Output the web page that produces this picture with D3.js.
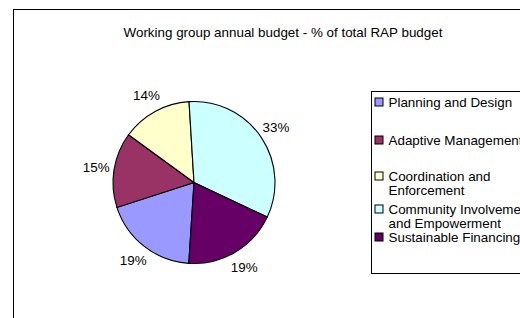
<!DOCTYPE html>
<html>
<head>
<meta charset="utf-8">
<script src="https://cdn.jsdelivr.net/npm/d3@7"></script>
<style>
  body { margin: 0; background: #fff; }
  text { font-family: "Liberation Sans", Arial, sans-serif; fill: #000; }
</style>
</head>
<body>
<svg id="chart" width="520" height="318"></svg>
<script>
// data
const categories = ["Planning and Design", "Adaptive Management", "Coordination and Enforcement",
                    "Community Involvement and Empowerment", "Sustainable Financing"];
const legendLines = [["Planning and Design"], ["Adaptive Management"], ["Coordination and", "Enforcement"],
                     ["Community Involvement", "and Empowerment"], ["Sustainable Financing"]];
const shares = [19, 15, 14, 33, 19];
const colors = ["#9999ff", "#993366", "#ffffcc", "#ccffff", "#660066"];
const title = "Working group annual budget - % of total RAP budget";

const svg = d3.select("#chart");

// outer chart frame (runs off the right and bottom of the picture)
svg.append("rect")
    .attr("x", 13.5).attr("y", 9.5)
    .attr("width", 560).attr("height", 340)
    .style("fill", "#fff").style("stroke", "#000").style("stroke-width", 1);

svg.append("text")
    .attr("x", 283).attr("y", 37)
    .attr("text-anchor", "middle")
    .style("font-size", "13.4px")
    .text(title);

const cx = 194, cy = 182.5, r = 81;
const g = svg.append("g").attr("transform", "translate(" + cx + "," + cy + ")");

const start = 3.206;
const pie = d3.pie().sort(null).startAngle(start).endAngle(start + 2 * Math.PI);
const arcs = pie(shares);
const arc = d3.arc().innerRadius(0).outerRadius(r);
const labelArc = d3.arc().innerRadius(99).outerRadius(99);

g.selectAll("path.slice")
    .data(arcs)
    .enter().append("path")
    .attr("class", "slice")
    .attr("d", arc)
    .style("fill", (d, i) => colors[i])
    .style("stroke", "#000")
    .style("stroke-width", 1.1);

g.selectAll("text.pct")
    .data(arcs)
    .enter().append("text")
    .attr("class", "pct")
    .attr("transform", d => "translate(" + labelArc.centroid(d) + ")")
    .attr("text-anchor", "middle")
    .attr("dy", "0.35em")
    .style("font-size", "13.4px")
    .text(d => d.data + "%");

// legend
const legend = svg.append("g").attr("transform", "translate(371.5,91.5)");
legend.append("rect")
    .attr("width", 200).attr("height", 182)
    .style("fill", "#fff").style("stroke", "#000").style("stroke-width", 1);

// first-line tops of each entry (layout only)
const entryY = [6, 44, 80, 113, 141];
const lineH = 13.5;

const entries = legend.selectAll("g.entry")
    .data(categories)
    .enter().append("g")
    .attr("class", "entry")
    .attr("transform", (d, i) => "translate(0," + entryY[i] + ")");

entries.append("rect")
    .attr("x", 3.5).attr("y", 0.5)
    .attr("width", 8).attr("height", 8)
    .style("fill", (d, i) => colors[i])
    .style("stroke", "#000").style("stroke-width", 1);

entries.append("text")
    .attr("x", 17)
    .attr("y", 9.5)
    .style("font-size", "13.4px")
    .selectAll("tspan")
    .data((d, i) => legendLines[i])
    .enter().append("tspan")
    .attr("x", 17)
    .attr("dy", (d, j) => j === 0 ? 0 : lineH)
    .text(d => d);
</script>
</body>
</html>
